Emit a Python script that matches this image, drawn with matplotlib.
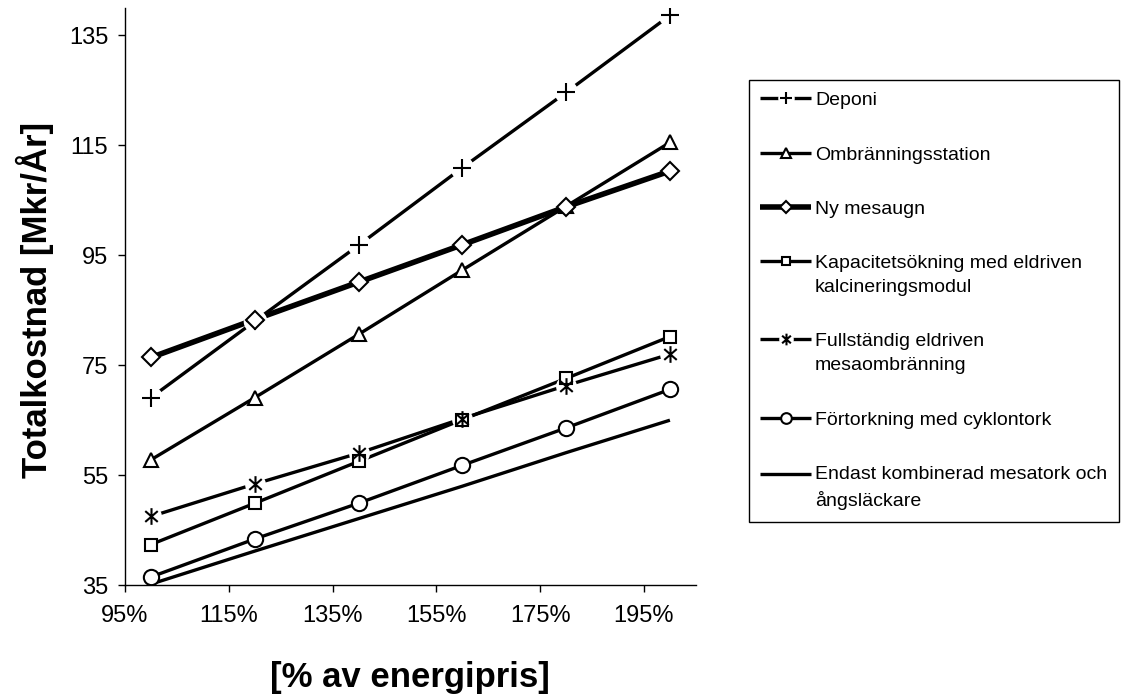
import numpy as np
import matplotlib
matplotlib.use("Agg")
import matplotlib.pyplot as plt
from matplotlib.path import Path
from matplotlib.legend_handler import HandlerTuple


# x values: % of energy price
x_values = [100, 120, 140, 160, 180, 200]

deponi = [69.1, 83.0, 96.8, 110.9, 124.6, 138.6]
ombranningsstation = [57.8, 69.1, 80.6, 92.3, 103.9, 115.5]
ny_mesaugn = [76.4, 83.3, 90.1, 96.9, 103.8, 110.3]
kapacitetsokning = [42.4, 49.9, 57.5, 65.1, 72.6, 80.2]
fullstandig = [47.5, 53.4, 59.0, 65.3, 71.3, 77.0]
fortorkning = [36.5, 43.4, 49.9, 56.8, 63.6, 70.6]
endast = [35.2, 41.2, 47.1, 53.0, 59.1, 65.0]

labels = [
    "Deponi",
    "Ombränningsstation",
    "Ny mesaugn",
    "Kapacitetsökning med eldriven\nkalcineringsmodul",
    "Fullständig eldriven\nmesaombränning",
    "Förtorkning med cyklontork",
    "Endast kombinerad mesatork och\nångsläckare",
]

x_ticks = [95, 115, 135, 155, 175, 195]
y_ticks = [35, 55, 75, 95, 115, 135]

LEGEND_FS = 14
LINESPACING = 1.55

# asterisk marker like the Excel one: vertical bar plus an X
ASTERISK = Path(
    [(0, -1), (0, 1), (-0.75, -0.65), (0.75, 0.65), (-0.75, 0.65), (0.75, -0.65)],
    [Path.MOVETO, Path.LINETO, Path.MOVETO, Path.LINETO, Path.MOVETO, Path.LINETO],
)


class FirstLineTuple(HandlerTuple):
    """Lift the legend handle so it sits next to the first line of the label."""

    def __init__(self, dy=0.0, **kw):
        super().__init__(ndivide=1, **kw)
        self.dy = dy

    def create_artists(self, legend, orig_handle, xdescent, ydescent,
                       width, height, fontsize, trans):
        return super().create_artists(legend, orig_handle, xdescent,
                                      ydescent - 2 * self.dy, width, height,
                                      fontsize, trans)


def draw_series(ax, y, marker, ms, lw=2.4, mask=None):
    line, = ax.plot(x_values, y, color="black", linewidth=lw, zorder=2,
                    solid_capstyle="butt")
    parts = [line]
    if mask is not None:
        # white disc behind open markers like + and * so the line stops short
        m, = ax.plot(x_values, y, linestyle="none", marker="o", markersize=mask,
                     markerfacecolor="white", markeredgecolor="white",
                     markeredgewidth=0, zorder=3)
        parts.append(m)
    if marker is not None:
        mk, = ax.plot(x_values, y, linestyle="none", marker=marker, markersize=ms,
                      markerfacecolor="white", markeredgecolor="black",
                      markeredgewidth=1.5, zorder=4)
        parts.append(mk)
    return tuple(parts)


def main():
    plt.rcParams["font.family"] = ["Liberation Sans", "DejaVu Sans"]

    fig = plt.figure(figsize=(11.26, 7), dpi=100)
    ax = fig.add_axes([0.111, 0.164, 0.507, 0.825])

    handles = [
        draw_series(ax, deponi, "+", 13, mask=17),
        draw_series(ax, ombranningsstation, "^", 10.5),
        draw_series(ax, ny_mesaugn, "D", 9, lw=4),
        draw_series(ax, kapacitetsokning, "s", 8),
        draw_series(ax, fullstandig, ASTERISK, 12, mask=15),
        draw_series(ax, fortorkning, "o", 11),
        draw_series(ax, endast, None, 0),
    ]

    ax.set_xlim(95, 205)
    ax.set_ylim(35, 140)
    ax.set_xticks(x_ticks)
    ax.set_xticklabels([f"{v}%" for v in x_ticks])
    ax.set_yticks(y_ticks)

    for side in ["top", "right"]:
        ax.spines[side].set_visible(False)
    for side in ["left", "bottom"]:
        ax.spines[side].set_linewidth(1)
    ax.tick_params(axis="both", direction="out", length=5, width=1, labelsize=17)
    ax.tick_params(axis="y", pad=7)
    ax.tick_params(axis="x", pad=9)

    fig.text(35 / 1126, 1 - 300 / 700, "Totalkostnad [Mkr/År]", rotation=90,
             ha="center", va="center", fontsize=25, fontweight="bold")
    fig.text(410 / 1126, 1 - 677 / 700, "[% av energipris]",
             ha="center", va="center", fontsize=25, fontweight="bold")

    # two-line labels get their handle lifted to the first text line
    half_line = 0.5 * LINESPACING * LEGEND_FS * 0.93
    handler_map = {}
    for h, lab in zip(handles, labels):
        n_lines = lab.count("\n") + 1
        handler_map[h] = FirstLineTuple(dy=half_line * (n_lines - 1))

    leg = fig.legend(handles, labels, loc="upper left", handler_map=handler_map,
                     bbox_to_anchor=(0.665, 0.886), borderaxespad=0,
                     fontsize=LEGEND_FS, frameon=True, fancybox=False,
                     framealpha=1, edgecolor="black", handlelength=2.6,
                     handletextpad=0.2, labelspacing=1.9, borderpad=0.6,
                     markerscale=0.7)
    leg.get_frame().set_linewidth(1)
    for t in leg.get_texts():
        t.set_linespacing(LINESPACING)

    fig.savefig("out.png", dpi=100)


if __name__ == "__main__":
    main()
